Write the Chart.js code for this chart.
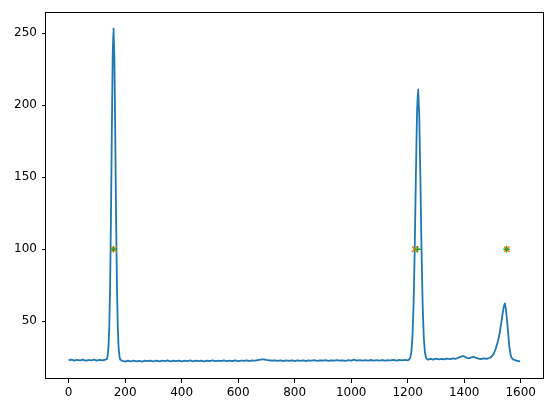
<!DOCTYPE html>
<html>
<head>
<meta charset="utf-8">
<script src="https://cdn.jsdelivr.net/npm/chart.js@4/dist/chart.umd.min.js"></script>
<style>
html,body{margin:0;padding:0;background:#fff;}
#wrap{width:552px;height:413px;position:relative;}
</style>
</head>
<body>
<div id="wrap"><canvas id="c"></canvas></div>
<script>
// ---- data ----
const signalX = [
0,10,20,30,40,50,60,70,80,90,100,110,120,130,135,
138,141,144,147,150,153,156,159,162,165,168,171,174,177,180,183,
190,200,210,220,230,240,250,260,270,280,290,300,310,320,330,340,350,360,370,380,390,400,
410,420,430,440,450,460,470,480,490,500,510,520,530,540,550,560,570,580,590,600,
610,620,630,640,650,660,670,680,690,700,710,720,730,740,750,760,770,780,790,800,
810,820,830,840,850,860,870,880,890,900,910,920,930,940,950,960,970,980,990,1000,
1010,1020,1030,1040,1050,1060,1070,1080,1090,1100,1110,1120,1130,1140,1150,1160,1170,1180,1190,1200,
1205,1209,1213,1217,1221,1225,1229,1233,1237,1241,1245,1249,1253,1257,1261,1265,1269,
1272,1280,1290,1300,1310,1320,1330,1340,1350,1360,1370,1380,1390,1396,1402,1410,1418,1426,1433,1440,1450,1460,1470,1480,1488,
1495,1505,1512,1518,1524,1530,1536,1540,1544,1548,1552,1556,1560,1564,1568,1574,1582,1590,1598
];
const signalY = [
22.8,23.3,22.6,23.1,22.7,23.2,22.5,23.0,22.7,23.3,22.6,23.1,22.8,23.2,23.6,
25.5,31.4,46.2,75.9,123.6,182.4,232.8,253.5,232.8,182.4,123.6,75.9,46.2,31.4,25.5,23.2,
22.4,21.9,22.5,22.0,22.6,22.1,22.4,21.9,22.6,22.2,22.5,22.0,22.6,22.1,22.5,22.2,22.7,22.0,22.5,22.2,22.6,22.1,
22.5,22.2,22.7,22.1,22.6,22.2,22.5,22.1,22.6,22.3,22.7,22.2,22.6,22.3,22.7,22.2,22.6,22.3,22.7,22.2,
22.6,22.4,22.8,22.3,22.7,22.5,23.0,23.3,23.5,23.1,22.8,22.5,22.8,22.4,22.7,22.3,22.7,22.4,22.8,22.3,
22.7,22.4,22.8,22.3,22.7,22.5,22.9,22.4,22.8,22.5,22.9,22.4,22.8,22.5,22.9,22.5,22.8,22.4,22.9,22.6,
23.2,22.6,22.9,22.5,22.9,22.6,23.0,22.6,22.9,22.5,23.0,22.6,22.9,22.7,23.1,22.6,23.0,22.7,23.1,22.8,
23.3,24.5,28.4,38.9,61.7,100.3,149.7,193.3,211.2,193.3,149.7,100.3,61.7,38.9,28.4,24.5,23.5,
23.2,23.8,23.3,23.9,23.4,23.8,23.5,24.0,23.6,24.1,23.8,24.6,25.4,25.8,25.3,24.5,24.2,24.8,25.2,24.6,24.0,23.7,24.1,23.8,24.4,
25.0,27.5,31.0,35.0,40.0,47.0,55.0,60.0,62.3,58.0,50.0,41.0,32.0,27.0,24.5,23.3,22.8,22.3,22.0
];
const markXx = [160, 1225, 1551];
const markXy = [100, 100, 100];
const markPx = [159, 1235, 1550];
const markPy = [100, 100, 100];
const xTicks = [0,200,400,600,800,1000,1200,1400,1600];
const yTicks = [50,100,150,200,250];

const pts = (xs, ys) => xs.map((x, i) => ({x: x, y: ys[i]}));

const frame = {
  id: 'frame',
  afterDraw(chart) {
    const a = chart.chartArea, ctx = chart.ctx;
    ctx.save();
    ctx.strokeStyle = '#000';
    ctx.lineWidth = 1;
    ctx.strokeRect(Math.round(a.left) - 0.5, Math.round(a.top) + 0.5,
                   Math.round(a.right - a.left) + 1, Math.round(a.bottom - a.top) - 1);
    ctx.restore();
  }
};

const tickFont = {family: 'DejaVu Sans', size: 12};

new Chart(document.getElementById('c'), {
  type: 'line',
  data: {
    datasets: [
      {label: 'signal', data: pts(signalX, signalY), borderColor: '#1f77b4', borderWidth: 1.8,
       pointRadius: 0, tension: 0.001, fill: false, order: 3, borderJoinStyle: 'round'},
      {label: 'x', data: pts(markXx, markXy), showLine: false, pointStyle: 'crossRot',
       pointRadius: 3.8, borderColor: '#ff7f0e', backgroundColor: '#ff7f0e', pointBorderWidth: 1.5, order: 2},
      {label: '+', data: pts(markPx, markPy), showLine: false, pointStyle: 'cross',
       pointRadius: 3.2, borderColor: '#2ca02c', backgroundColor: '#2ca02c', pointBorderWidth: 1.5, order: 1}
    ]
  },
  options: {
    responsive: true,
    maintainAspectRatio: false,
    animation: false,
    devicePixelRatio: 1,
    layout: {padding: {top: 11, right: 9, left: 0, bottom: 0}},
    plugins: {legend: {display: false}, tooltip: {enabled: false}},
    scales: {
      x: {
        type: 'linear', min: -80, max: 1679,
        afterBuildTicks: s => { s.ticks = xTicks.map(v => ({value: v})); },
        afterFit: s => { s.height = 34; },
        grid: {drawOnChartArea: false, drawTicks: true, tickLength: 4, color: '#000'},
        border: {display: false},
        ticks: {color: '#000', font: tickFont, padding: 3, maxRotation: 0, autoSkip: false,
                callback: v => String(v)}
      },
      y: {
        type: 'linear', min: 9.8, max: 264.7,
        afterBuildTicks: s => { s.ticks = yTicks.map(v => ({value: v})); },
        afterFit: s => { s.width = 46; },
        grid: {drawOnChartArea: false, drawTicks: true, tickLength: 4, color: '#000'},
        border: {display: false},
        ticks: {color: '#000', font: tickFont, padding: 5, autoSkip: false,
                callback: v => String(v)}
      }
    }
  },
  plugins: [frame]
});
</script>
</body>
</html>
